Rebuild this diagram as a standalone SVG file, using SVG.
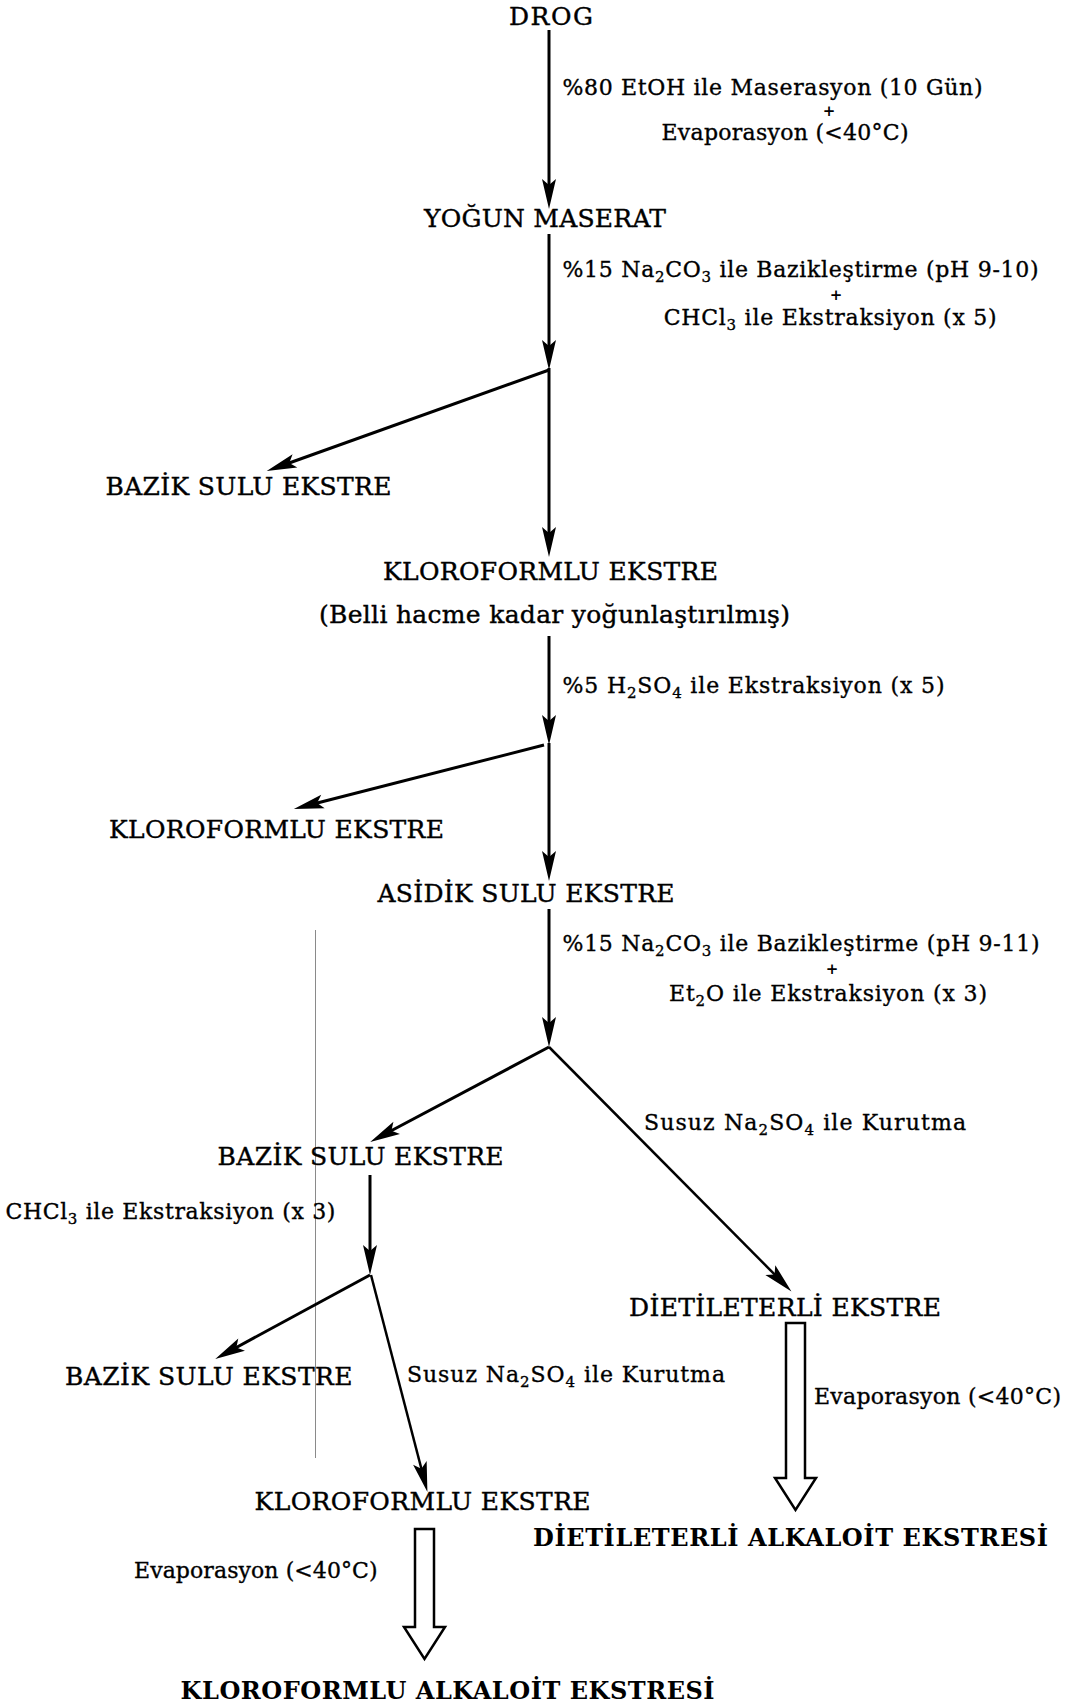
<svg xmlns="http://www.w3.org/2000/svg" width="1074" height="1707" viewBox="0 0 1074 1707">
  <style>
    text { font-family: "DejaVu Serif", "Liberation Serif", serif; fill: #000; }
    .n { font-size: 25px; stroke: #000; stroke-width: 0.4; }
    .l { font-size: 22px; stroke: #000; stroke-width: 0.35; }
    .p { font-size: 15px; font-weight: bold; }
    .b { font-size: 24px; font-weight: bold; }
    .sub { font-size: 15px; }
    .c { fill: none; stroke: #000; stroke-width: 3; marker-end: url(#ah); }
    .c2 { fill: none; stroke: #000; stroke-width: 2.5; marker-end: url(#ah); }
    .hollow { fill: #fff; stroke: #000; stroke-width: 2.5; stroke-linejoin: miter; }
    .rule { stroke: #8a8a8a; stroke-width: 1; }
  </style>
  <defs>
    <!-- filled notched arrowhead; tip sits 10 units past the line end -->
    <marker id="ah" markerUnits="userSpaceOnUse" markerWidth="30" markerHeight="14" refX="18" refY="7" orient="auto" overflow="visible">
      <path d="M0,0 L30,7 L0,14 L6,7 Z" fill="#000"/>
    </marker>
  </defs>
  <rect width="1074" height="1707" fill="#fff"/>

  <!-- faint vertical rule -->
  <line class="rule" x1="315.5" y1="930" x2="315.5" y2="1458"/>

  <!-- connectors -->
  <g id="connectors">
    <line class="c" x1="549" y1="30" x2="549" y2="197"/>
    <line class="c" x1="549" y1="234" x2="549" y2="358"/>
    <line class="c" x1="549" y1="368" x2="549" y2="545"/>
    <line class="c" x1="549" y1="370" x2="278" y2="467"/>
    <line class="c" x1="549" y1="636" x2="549" y2="733"/>
    <line class="c" x1="549" y1="743" x2="549" y2="869"/>
    <line class="c" x1="544" y1="745" x2="305.5" y2="806"/>
    <line class="c" x1="549" y1="909" x2="549" y2="1035"/>
    <line class="c" x1="549" y1="1047" x2="380.8" y2="1136.3"/>
    <line class="c2" x1="549" y1="1047" x2="783" y2="1282.9"/>
    <line class="c" x1="370" y1="1175" x2="370" y2="1263"/>
    <line class="c" x1="370" y1="1275" x2="225.8" y2="1353.2"/>
    <line class="c2" x1="371" y1="1275" x2="424.4" y2="1480.3"/>
    <!-- hollow evaporation arrows -->
    <path class="hollow" d="M786,1323 L805,1323 L805,1478 L816,1478 L795.5,1510 L775,1478 L786,1478 Z"/>
    <path class="hollow" d="M415,1529 L434,1529 L434,1627 L445,1627 L424.5,1659 L404,1627 L415,1627 Z"/>
  </g>

  <!-- process step labels -->
  <g id="labels">
    <text class="l" x="562.5" y="95" textLength="420">%80 EtOH ile Maserasyon (10 Gün)</text>
    <text class="p" x="829" y="115.5" text-anchor="middle">+</text>
    <text class="l" x="661.5" y="140" textLength="247">Evaporasyon (&lt;40°C)</text>

    <text class="l" x="562.5" y="277" textLength="476">%15 Na<tspan class="sub" dy="5">2</tspan><tspan dy="-5">CO</tspan><tspan class="sub" dy="5">3</tspan><tspan dy="-5"> ile Bazikleştirme (pH 9-10)</tspan></text>
    <text class="p" x="836" y="300" text-anchor="middle">+</text>
    <text class="l" x="663.7" y="325" textLength="333">CHCl<tspan class="sub" dy="5">3</tspan><tspan dy="-5"> ile Ekstraksiyon (x 5)</tspan></text>

    <text class="l" x="562.5" y="693" textLength="382">%5 H<tspan class="sub" dy="5">2</tspan><tspan dy="-5">SO</tspan><tspan class="sub" dy="5">4</tspan><tspan dy="-5"> ile Ekstraksiyon (x 5)</tspan></text>

    <text class="l" x="562.5" y="951" textLength="477">%15 Na<tspan class="sub" dy="5">2</tspan><tspan dy="-5">CO</tspan><tspan class="sub" dy="5">3</tspan><tspan dy="-5"> ile Bazikleştirme (pH 9-11)</tspan></text>
    <text class="p" x="832" y="974" text-anchor="middle">+</text>
    <text class="l" x="669" y="1001" textLength="318">Et<tspan class="sub" dy="5">2</tspan><tspan dy="-5">O ile Ekstraksiyon (x 3)</tspan></text>

    <text class="l" x="644" y="1130" textLength="322">Susuz Na<tspan class="sub" dy="5">2</tspan><tspan dy="-5">SO</tspan><tspan class="sub" dy="5">4</tspan><tspan dy="-5"> ile Kurutma</tspan></text>
    <text class="l" x="5.4" y="1219" textLength="330">CHCl<tspan class="sub" dy="5">3</tspan><tspan dy="-5"> ile Ekstraksiyon (x 3)</tspan></text>
    <text class="l" x="407" y="1382" textLength="318">Susuz Na<tspan class="sub" dy="5">2</tspan><tspan dy="-5">SO</tspan><tspan class="sub" dy="5">4</tspan><tspan dy="-5"> ile Kurutma</tspan></text>
    <text class="l" x="814" y="1404" textLength="247">Evaporasyon (&lt;40°C)</text>
    <text class="l" x="134" y="1578" textLength="243.6">Evaporasyon (&lt;40°C)</text>
  </g>

  <!-- nodes -->
  <g id="drog"><text class="n" x="509" y="25" textLength="84">DROG</text></g>
  <g id="yogun-maserat"><text class="n" x="424" y="227" textLength="242">YOĞUN MASERAT</text></g>
  <g id="bazik-sulu-1"><text class="n" x="105.5" y="495" textLength="286">BAZİK SULU EKSTRE</text></g>
  <g id="kloroformlu-1">
    <text class="n" x="383" y="580" textLength="335">KLOROFORMLU EKSTRE</text>
    <text class="n" x="319" y="623" textLength="471">(Belli hacme kadar yoğunlaştırılmış)</text>
  </g>
  <g id="kloroformlu-2"><text class="n" x="109" y="838" textLength="335">KLOROFORMLU EKSTRE</text></g>
  <g id="asidik-sulu"><text class="n" x="377.5" y="902" textLength="297">ASİDİK SULU EKSTRE</text></g>
  <g id="bazik-sulu-2"><text class="n" x="217.6" y="1165" textLength="286">BAZİK SULU EKSTRE</text></g>
  <g id="dietileterli"><text class="n" x="629" y="1316" textLength="312">DİETİLETERLİ EKSTRE</text></g>
  <g id="bazik-sulu-3"><text class="n" x="65" y="1385" textLength="287.5">BAZİK SULU EKSTRE</text></g>
  <g id="kloroformlu-3"><text class="n" x="254.6" y="1510" textLength="336">KLOROFORMLU EKSTRE</text></g>
  <g id="dietileterli-alkaloit"><text class="b" x="533" y="1546" textLength="515">DİETİLETERLİ ALKALOİT EKSTRESİ</text></g>
  <g id="kloroformlu-alkaloit"><text class="b" x="180.6" y="1699" textLength="534">KLOROFORMLU ALKALOİT EKSTRESİ</text></g>
</svg>
